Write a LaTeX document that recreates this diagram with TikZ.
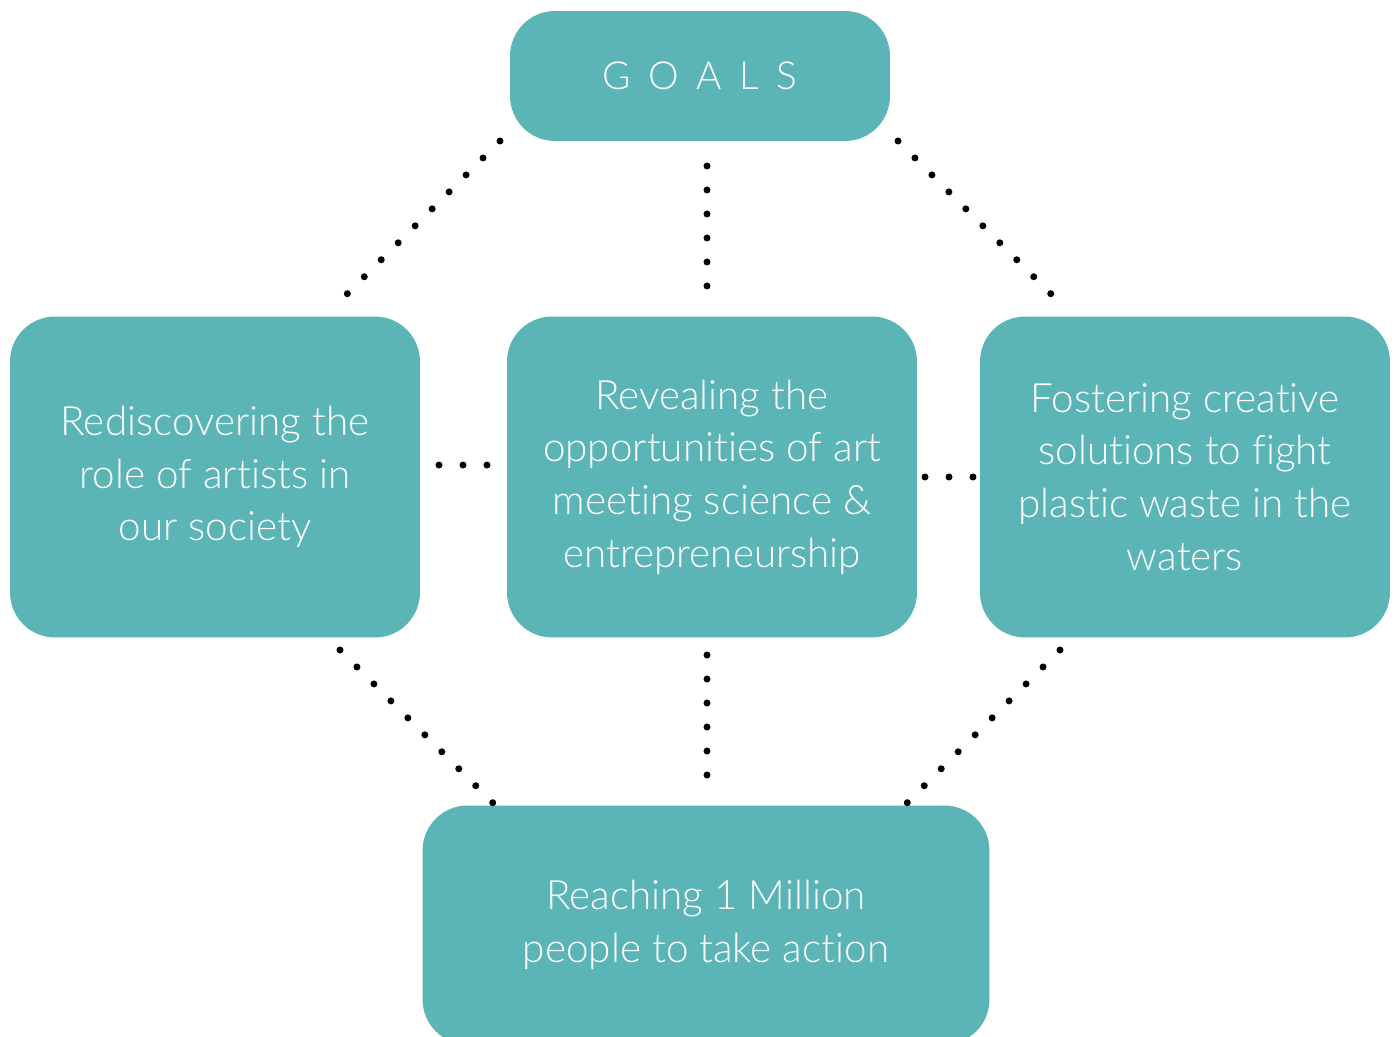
\documentclass[tikz,border=0pt]{standalone}
\usepackage{fontspec}
\setmainfont{Lato Light}[Ligatures=NoCommon]
\usepackage{xcolor}
\usepackage{tikz}

\definecolor{goalteal}{HTML}{5BB4B5}

\tikzset{
    goalbox/.style={fill=goalteal, rounded corners=0.9cm, text=white, align=center,
        inner sep=0pt, font=\fontsize{23}{30}\selectfont},
    dotline/.style={line width=0.14cm, line cap=round, dash pattern=on 0pt off 0.48cm}
}

\begin{document}
\begin{tikzpicture}[x=0.02cm,y=-0.02cm]
    \useasboundingbox (0,0) rectangle (1397,1037);
    \clip (0,0) rectangle (1397,1037);

    % Boxes
    \node[goalbox, minimum width=7.6cm, minimum height=2.6cm,
        font=\fontsize{22}{26}\selectfont] (goals) at (700,76)
        {G\hspace{0.45em}O\hspace{0.45em}A\hspace{0.45em}L\hspace{0.45em}S};
    \node[goalbox, minimum width=8.2cm, minimum height=6.42cm] (artists) at (215,477)
        {Rediscovering the\\role of artists in\\our society};
    \node[goalbox, minimum width=8.2cm, minimum height=6.42cm] (science) at (712,477)
        {Revealing the\\opportunities of art\\meeting science \&\\entrepreneurship};
    \node[goalbox, minimum width=8.2cm, minimum height=6.42cm] (plastic) at (1185,477)
        {Fostering creative\\solutions to fight\\plastic waste in the\\waters};
    \node[goalbox, minimum width=11.34cm, minimum height=4.78cm] (million) at (706,925)
        {Reaching 1 Million\\people to take action};

    % Ends of the dotted links
    \coordinate (ga) at (500,141);   \coordinate (ag) at (347,294);
    \coordinate (gs) at (707,166);   \coordinate (sg) at (707,286);
    \coordinate (gp) at (898,141);   \coordinate (pg) at (1051,294);
    \coordinate (as) at (439,465);   \coordinate (sa) at (487,465);
    \coordinate (sp) at (925,477);   \coordinate (ps) at (973,477);
    \coordinate (am) at (340,650);   \coordinate (ma) at (493,803);
    \coordinate (sm) at (707,655);   \coordinate (ms) at (707,775);
    \coordinate (pm) at (1060,650);  \coordinate (mp) at (907,803);

    % Dotted links
    \foreach \a/\b in {ga/ag, gs/sg, gp/pg, as/sa, sp/ps, am/ma, sm/ms, pm/mp} {
        \draw[dotline] (\a) -- (\b);
    }
\end{tikzpicture}
\end{document}
